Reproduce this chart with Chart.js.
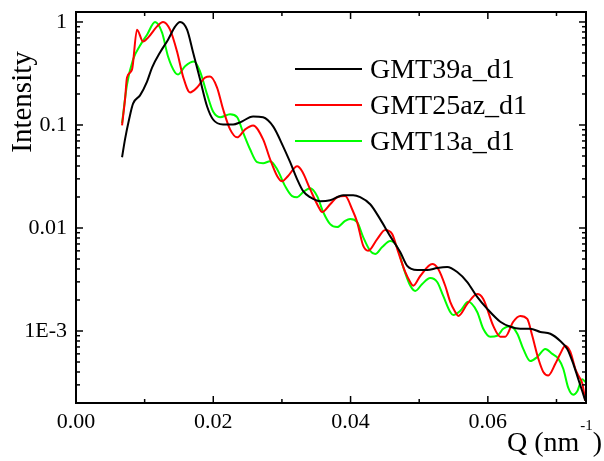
<!DOCTYPE html>
<html>
<head>
<meta charset="utf-8">
<script src="https://cdn.jsdelivr.net/npm/chart.js@4.4.1/dist/chart.umd.min.js"></script>
<style>
  html, body { margin: 0; padding: 0; background: #fff; }
  #wrap { width: 604px; height: 461px; }
</style>
</head>
<body>
<div id="wrap"><canvas id="saxsChart" width="604" height="461"></canvas></div>
<script>
const seriesNames = ["GMT39a_d1", "GMT25az_d1", "GMT13a_d1"];
const seriesColors = ["#000000", "#ff0000", "#00ff00"];

// GMT39a_d1 (black)
const qBlack = [0.00671, 0.00714, 0.00773, 0.00831, 0.00933, 0.01035, 0.01108, 0.01224, 0.01341, 0.01443,
  0.01516, 0.01618, 0.01706, 0.01808, 0.01910, 0.01997, 0.02143, 0.02289, 0.02391, 0.02580,
  0.02726, 0.02872, 0.03017, 0.03120, 0.03222, 0.03309, 0.03411, 0.03557, 0.03703, 0.03892,
  0.04038, 0.04140, 0.04286, 0.04431, 0.04577, 0.04723, 0.04825, 0.04971, 0.05117, 0.05262,
  0.05408, 0.05554, 0.05700, 0.05845, 0.05991, 0.06181, 0.06327, 0.06472, 0.06618, 0.06764,
  0.06910, 0.07055, 0.07157, 0.07245, 0.07318, 0.07376, 0.07420];
const iBlack = [0.0486, 0.0726, 0.113, 0.161, 0.194, 0.264, 0.361, 0.505, 0.674, 0.90,
  1.0, 0.842, 0.505, 0.276, 0.151, 0.113, 0.101, 0.101, 0.106, 0.121,
  0.119, 0.0969, 0.0621, 0.0435, 0.0297, 0.0228, 0.0199, 0.0182, 0.0186, 0.0208,
  0.0208, 0.0199, 0.0170, 0.0122, 0.00834, 0.00585, 0.00428, 0.00391, 0.00391, 0.00409,
  0.00418, 0.00374, 0.00299, 0.00214, 0.00164, 0.00123, 0.00110, 0.00105, 0.00105, 0.00098,
  0.00094, 0.00080, 0.00067, 0.00048, 0.00034, 0.00026, 0.00021];

// GMT25az_d1 (red)
const qRed = [0.00671, 0.00714, 0.00743, 0.00816, 0.00889, 0.00977, 0.01050, 0.01181, 0.01268, 0.01370,
  0.01472, 0.01560, 0.01662, 0.01764, 0.01880, 0.01953, 0.02055, 0.02143, 0.02245, 0.02347,
  0.02464, 0.02580, 0.02726, 0.02828, 0.02930, 0.03003, 0.03090, 0.03222, 0.03294, 0.03411,
  0.03528, 0.03586, 0.03703, 0.03805, 0.03921, 0.04023, 0.04096, 0.04184, 0.04257, 0.04388,
  0.04504, 0.04606, 0.04694, 0.04796, 0.04869, 0.04913, 0.05015, 0.05190, 0.05277, 0.05379,
  0.05452, 0.05525, 0.05569, 0.05700, 0.05845, 0.05933, 0.06079, 0.06181, 0.06254, 0.06370,
  0.06472, 0.06574, 0.06647, 0.06735, 0.06808, 0.06880, 0.06983, 0.07055, 0.07128, 0.07201,
  0.07274, 0.07318, 0.07376, 0.07420];
const iRed = [0.0991, 0.177, 0.289, 0.345, 0.842, 0.645, 0.705, 0.906, 1.0, 0.842,
  0.516, 0.295, 0.207, 0.231, 0.289, 0.295, 0.231, 0.142, 0.0906, 0.0759,
  0.0906, 0.0991, 0.0726, 0.0465, 0.0320, 0.0284, 0.0320, 0.0398, 0.0356, 0.0238,
  0.0163, 0.0143, 0.0170, 0.0199, 0.0204, 0.0152, 0.0114, 0.00673, 0.00601, 0.00780,
  0.00955, 0.00873, 0.00585, 0.00374, 0.00299, 0.00275, 0.00342, 0.00447, 0.00400, 0.00275,
  0.00192, 0.00153, 0.00140, 0.00183, 0.00229, 0.00205, 0.00112, 0.00088, 0.00088, 0.00123,
  0.00140, 0.00131, 0.00090, 0.00054, 0.00040, 0.00037, 0.00048, 0.00060, 0.00072, 0.00063,
  0.00043, 0.00037, 0.00031, 0.00021];

// GMT13a_d1 (green)
const qGreen = [0.00671, 0.00743, 0.00831, 0.00933, 0.01035, 0.01152, 0.01254, 0.01341, 0.01443, 0.01487,
  0.01589, 0.01720, 0.01808, 0.01910, 0.01997, 0.02099, 0.02245, 0.02347, 0.02434, 0.02536,
  0.02638, 0.02726, 0.02828, 0.02930, 0.03047, 0.03149, 0.03222, 0.03309, 0.03411, 0.03513,
  0.03601, 0.03703, 0.03805, 0.03921, 0.03994, 0.04096, 0.04184, 0.04286, 0.04359, 0.04461,
  0.04577, 0.04679, 0.04767, 0.04869, 0.04942, 0.05044, 0.05160, 0.05262, 0.05350, 0.05452,
  0.05496, 0.05598, 0.05714, 0.05845, 0.05933, 0.06035, 0.06137, 0.06224, 0.06327, 0.06429,
  0.06516, 0.06618, 0.06720, 0.06837, 0.06939, 0.07026, 0.07099, 0.07172, 0.07245, 0.07303,
  0.07376, 0.07420];
const iGreen = [0.104, 0.247, 0.432, 0.590, 0.753, 1.0, 0.788, 0.462, 0.323, 0.309,
  0.372, 0.413, 0.330, 0.198, 0.135, 0.119, 0.127, 0.119, 0.0848, 0.0581,
  0.0435, 0.0425, 0.0444, 0.0372, 0.0255, 0.0204, 0.0199, 0.0223, 0.0243, 0.0204,
  0.0143, 0.0109, 0.0102, 0.0117, 0.0122, 0.0114, 0.00816, 0.00601, 0.00559, 0.00653,
  0.00747, 0.00653, 0.00418, 0.00276, 0.00245, 0.00286, 0.00327, 0.00299, 0.00219, 0.00153,
  0.00143, 0.00157, 0.00192, 0.00153, 0.00105, 0.00088, 0.00090, 0.00105, 0.00112, 0.00094,
  0.00067, 0.00051, 0.00056, 0.00067, 0.00060, 0.00054, 0.00043, 0.00028, 0.00024, 0.00026,
  0.00034, 0.00032];

const xTicks = [0, 0.01, 0.02, 0.03, 0.04, 0.05, 0.06, 0.07];
const xTickLabels = ["0.00", "", "0.02", "", "0.04", "", "0.06", ""];
const yTicks = [0.001, 0.01, 0.1, 1];
const yTickLabels = ["1E-3", "0.01", "0.1", "1"];

const serif = "'Liberation Serif', 'DejaVu Serif', serif";

function toPoints(qs, is) {
  return qs.map((q, k) => ({ x: q, y: is[k] }));
}

const allSeries = [
  toPoints(qBlack, iBlack),
  toPoints(qRed, iRed),
  toPoints(qGreen, iGreen)
];

// frame, inward ticks, legend and axis titles
const decorations = {
  id: "decorations",
  afterDraw(chart) {
    const { ctx, chartArea: a, scales } = chart;
    const x = scales.x, y = scales.y;
    ctx.save();
    ctx.strokeStyle = "#000";
    ctx.lineWidth = 1.5;
    const seg = (x1, y1, x2, y2) => {
      ctx.beginPath(); ctx.moveTo(x1, y1); ctx.lineTo(x2, y2); ctx.stroke();
    };
    xTicks.forEach((v, k) => {
      const px = x.getPixelForValue(v);
      const len = xTickLabels[k] ? 7 : 4;
      seg(px, a.bottom, px, a.bottom - len);
      seg(px, a.top, px, a.top + len);
    });
    [1e-4, 1e-3, 1e-2, 1e-1, 1].forEach(d => {
      for (let m = 1; m <= 9; m++) {
        const v = d * m;
        if (v < y.min || v > y.max) continue;
        const py = y.getPixelForValue(v);
        const len = m === 1 ? 7 : 4;
        seg(a.left, py, a.left + len, py);
        seg(a.right, py, a.right - len, py);
      }
    });
    ctx.lineWidth = 2;
    ctx.strokeRect(a.left, a.top, a.right - a.left, a.bottom - a.top);

    // legend
    ctx.lineWidth = 2;
    ctx.font = "28px " + serif;
    ctx.fillStyle = "#000";
    ctx.textAlign = "left";
    ctx.textBaseline = "alphabetic";
    const rows = [69, 105, 141];
    seriesNames.forEach((name, k) => {
      ctx.strokeStyle = seriesColors[k];
      seg(295, rows[k], 362, rows[k]);
      ctx.fillText(name, 370, rows[k] + 9);
    });

    // y title
    ctx.save();
    ctx.translate(31, 102);
    ctx.rotate(-Math.PI / 2);
    ctx.textAlign = "center";
    ctx.font = "29px " + serif;
    ctx.fillText("Intensity", 0, 0);
    ctx.restore();

    // x title with superscript
    let tx = 507;
    const ty = 451;
    ctx.font = "28px " + serif;
    ctx.fillText("Q (nm", tx, ty);
    tx += ctx.measureText("Q (nm").width + 1;
    ctx.font = "15px " + serif;
    ctx.fillText("-1", tx, ty - 21);
    tx += ctx.measureText("-1").width;
    ctx.font = "28px " + serif;
    ctx.fillText(")", tx, ty);
    ctx.restore();
  }
};

new Chart(document.getElementById("saxsChart"), {
  type: "line",
  data: {
    datasets: allSeries.map((pts, k) => ({
      label: seriesNames[k],
      data: pts,
      borderColor: seriesColors[k],
      borderWidth: 2,
      pointRadius: 0,
      fill: false,
      cubicInterpolationMode: "monotone"
    }))
  },
  options: {
    responsive: false,
    animation: false,
    devicePixelRatio: 1,
    layout: { padding: { left: 0, right: 18, top: 12, bottom: 0 } },
    plugins: { legend: { display: false }, tooltip: { enabled: false } },
    scales: {
      x: {
        type: "linear",
        min: 0,
        max: 0.0743,
        grid: { display: false, drawTicks: false },
        border: { display: false },
        afterBuildTicks: s => { s.ticks = xTicks.map(v => ({ value: v })); },
        afterFit: s => { s.height = 58; s.paddingLeft = 0; s.paddingRight = 0; },
        ticks: {
          autoSkip: false,
          maxRotation: 0,
          padding: 6,
          color: "#000",
          font: { family: serif, size: 22 },
          callback: (v, k) => xTickLabels[k]
        }
      },
      y: {
        type: "logarithmic",
        min: 0.0002,
        max: 1.25,
        grid: { display: false, drawTicks: false },
        border: { display: false },
        afterBuildTicks: s => { s.ticks = yTicks.map(v => ({ value: v })); },
        afterFit: s => { s.width = 76; s.paddingTop = 0; s.paddingBottom = 0; },
        ticks: {
          autoSkip: false,
          padding: 9,
          color: "#000",
          font: { family: serif, size: 22 },
          callback: (v, k) => yTickLabels[k]
        }
      }
    }
  },
  plugins: [decorations]
});
</script>
</body>
</html>
